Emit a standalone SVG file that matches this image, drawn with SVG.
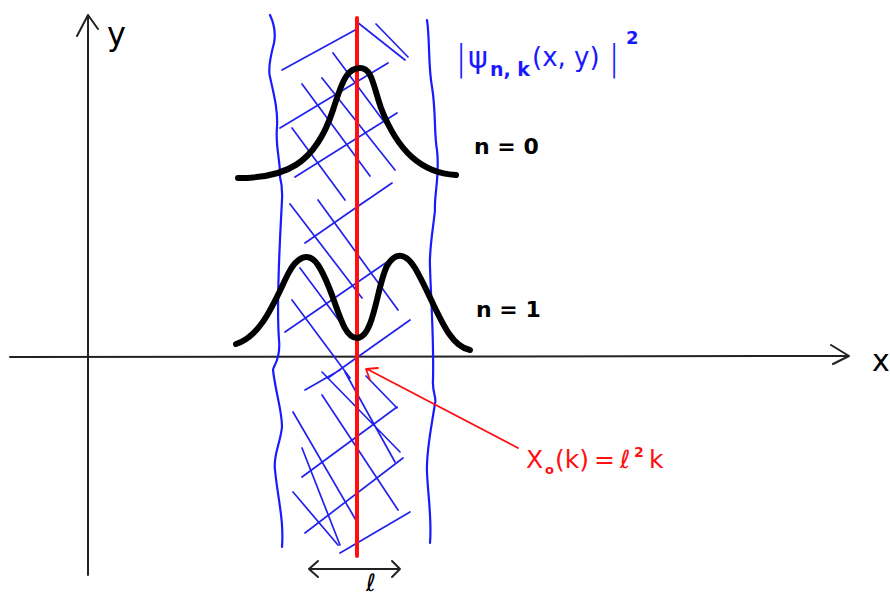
<svg xmlns="http://www.w3.org/2000/svg" width="890" height="597" viewBox="0 0 890 597">
<style>
.axis{stroke:#222;stroke-width:2;fill:none;stroke-linecap:round;stroke-linejoin:round}
.wave{stroke:#1a1aff;stroke-width:2.2;fill:none;stroke-linecap:round}
.hatch{stroke:#2222ee;stroke-width:1.7;fill:none;stroke-linecap:round}
.curve{stroke:#000;stroke-width:6;fill:none;stroke-linecap:round;stroke-linejoin:round}
.red{stroke:#ff1010;fill:none;stroke-linecap:round;stroke-linejoin:round}
.lbl{font-family:"DejaVu Sans","Liberation Sans",sans-serif}
</style>
<rect width="890" height="597" fill="#fff"/>
<g id="axes">
<path class="axis" d="M88,575 L88,15 M77,36 L88,15 L98,29"/>
<path class="axis" d="M10,357 L849,356 M831,345 L849,356 L833,364"/>
<text class="lbl" x="107" y="45" font-size="32" fill="#000">y</text>
<text class="lbl" x="872" y="371" font-size="30" fill="#000">x</text>
</g>
<g id="strip">
<path class="wave" d="M270,15 C276,28 275,38 274,43 C270,58 268,70 270,77 C274,95 278,110 277,127 C275,145 281,165 280,177 C283,188 282,196 282,200 C280,240 276,300 279,340 C281,360 273,366 273,370 C276,395 282,410 282,427 C280,445 273,455 275,470 C278,500 284,520 282,547"/>
<path class="wave" d="M427,20 C430,40 428,65 432,87 C436,110 434,135 437,150 C440,175 434,195 435,210 C433,230 429,250 430,267 C431,300 434,340 433,380 C432,392 437,398 435,403 C432,425 426,450 427,473 C428,495 432,520 430,543"/>
<g id="hatching">
<path class="hatch" d="M282,70 L357,29 M280,128 L388,63 M295,177 L397,113 M357,207 L392,183 M305,243 L367,200 M285,332 L387,262 M328,378 L410,320 M305,390 L340,370 M302,477 L397,407 M305,533 L403,458 M340,553 L410,512"/>
<path class="hatch" d="M357,22 L405,60 M376,24 L408,57 M333,53 L405,150 M322,78 L395,170 M302,84 L370,176 M292,128 L345,200 M290,204 L362,298 M318,200 L398,310 M300,268 L352,338 M292,300 L350,378 M322,372 L400,452 M345,372 L395,462 M366,376 L397,408 M322,395 L398,510 M293,412 L357,522 M302,448 L340,545 M293,492 L338,545"/>
</g>
</g>
<g id="centerline">
<path class="red" stroke-width="4" d="M357,18 L357,556"/>
</g>
<g id="n0">
<path class="curve" d="M238,178 C285,178 315,165 333,110 C343,78 348,68 360,68 C372,68 373,85 381,108 C398,152 422,173 456,175"/>
<text class="lbl" x="474" y="154" font-size="22" font-weight="bold" fill="#000">n = 0</text>
</g>
<g id="n1">
<path class="curve" d="M236,344 C262,336 275,300 288,274 C296,258 308,250 318,265 C336,292 340,338 357,338 C374,338 377,285 387,266 C395,252 405,252 415,268 C435,302 446,346 470,350"/>
<text class="lbl" x="476" y="317" font-size="22" font-weight="bold" fill="#000">n = 1</text>
</g>
<g id="psi-label" fill="#1a1aff">
<text class="lbl" x="455" y="70" font-size="36" font-weight="300">|</text>
<text class="lbl" x="468" y="68" font-size="30">ψ</text>
<text class="lbl" x="490" y="76" font-size="19" font-weight="bold">n, k</text>
<text class="lbl" x="532" y="66" font-size="26">(x, y)</text>
<text class="lbl" x="608" y="70" font-size="36" font-weight="300">|</text>
<text class="lbl" x="626" y="44" font-size="18" font-weight="bold">2</text>
</g>
<g id="x0-label" fill="#ff1010">
<path class="red" stroke-width="1.8" d="M518,448 L367,369 M370,380 L366,369 L378,368"/>
<text class="lbl" x="526" y="468" font-size="25">X</text>
<text class="lbl" x="545" y="474" font-size="13" font-weight="bold">o</text>
<text class="lbl" x="555" y="468" font-size="25">(k)</text>
<text class="lbl" x="594" y="468" font-size="25">=</text>
<text class="lbl" x="620" y="468" font-size="25">ℓ</text>
<text class="lbl" x="634" y="457" font-size="14" font-weight="bold">2</text>
<text class="lbl" x="649" y="468" font-size="25">k</text>
</g>
<g id="width">
<path class="axis" stroke-width="2.2" d="M309,569 L400,569 M318,561 L309,569 L318,577 M392,561 L400,569 L392,577"/>
<text class="lbl" x="366" y="591" font-size="24" fill="#000">ℓ</text>
</g>
</svg>
